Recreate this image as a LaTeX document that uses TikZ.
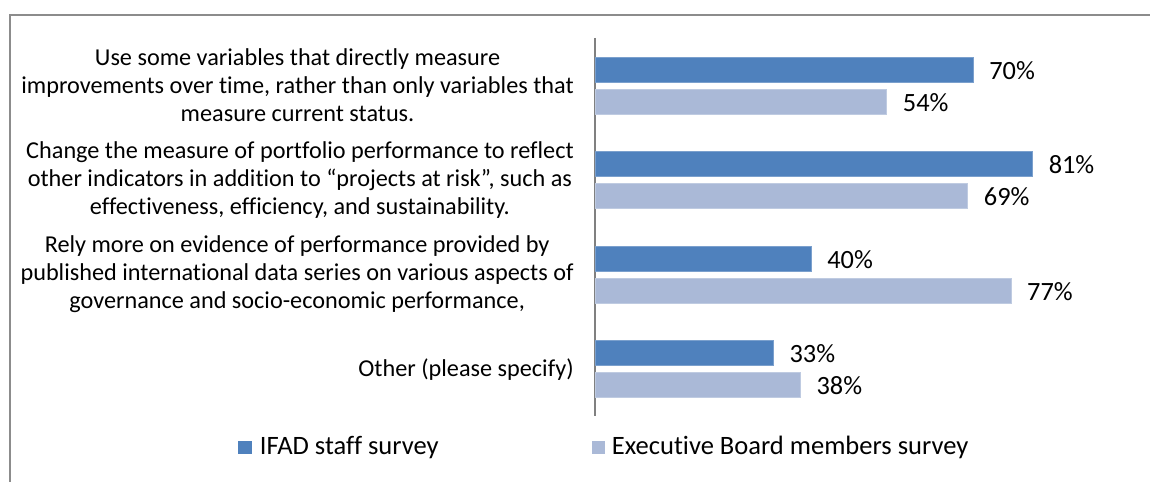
\documentclass[tikz,border=0pt]{standalone}
\usepackage{fontspec}
\setmainfont{Carlito}[Ligatures=NoCommon]
\usetikzlibrary{positioning}
\definecolor{ifadblue}{HTML}{4F81BD}
\definecolor{boardblue}{HTML}{AAB9D7}
\definecolor{framegray}{HTML}{8C8C8C}

\begin{document}
\begin{tikzpicture}[x=0.02cm,y=-0.02cm]
   \tikzset{lab/.style={anchor=east, align=center, inner sep=0pt, font=\fontsize{13.8}{15.9}\selectfont},
            pct/.style={anchor=west, inner sep=0pt, font=\fontsize{15}{17}\selectfont},
            leg/.style={anchor=west, inner sep=0pt, font=\fontsize{15.1}{17}\selectfont},
            legsq/.style={inner sep=0pt, minimum size=0.27cm},
            ifad/.style={fill=ifadblue, draw=ifadblue!75!white, line width=0.3pt},
            board/.style={fill=boardblue, draw=boardblue!75!white, line width=0.3pt}};

\useasboundingbox (0,0) rectangle (1150,482);

%frame--------------------------
\draw[framegray, line width=1pt] (10,495) -- (10,15) -- (1160,15);

%axis---------------------------
\draw[gray, line width=1.1pt] (595,38) -- (595,416);

%bars---------------------------
\foreach \i/\a/\b in {1/70/54, 2/81/69, 3/40/77, 4/33/38}{
    \pgfmathsetmacro\yc{85.5+94.5*(\i-1)}
    \draw[ifad] (595,{\yc-28.5}) rectangle ({595+5.4*\a},{\yc-3.5});
    \draw[board] (595,{\yc+3.5}) rectangle ({595+5.4*\b},{\yc+28.5});
    \node[pct] (pa\i) at ({595+5.4*\a+16},{\yc-15}) {\a\%};
    \node[pct] (pb\i) at ({595+5.4*\b+16},{\yc+17}) {\b\%};
}

%categories---------------------
\node[lab] (q1) at (574,85.5) {Use some variables that directly measure\\improvements over time, rather than only variables that\\measure current status.};
\node[lab] (q2) at (574,180) {Change the measure of portfolio performance to reflect\\other indicators in addition to “projects at risk”, such as\\effectiveness, efficiency, and sustainability.};
\node[lab] (q3) at (574,274.5) {Rely more on evidence of performance provided by\\published international data series on various aspects of\\governance and socio-economic performance,};
\node[lab] (q4) at (574,370) {Other (please specify)};

%legend-------------------------
\node[legsq, fill=ifadblue] (k1) at (245,447.5) {};
\node[leg, right=0.15cm of k1] (t1) {IFAD staff survey};
\node[legsq, fill=boardblue] (k2) at (598.5,447.5) {};
\node[leg, right=0.12cm of k2] (t2) {Executive Board members survey};

\end{tikzpicture}
\end{document}
